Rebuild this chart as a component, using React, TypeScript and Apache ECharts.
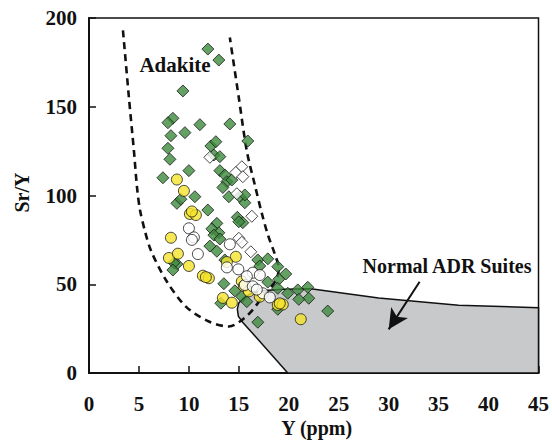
import React, { useEffect, useRef } from "react";
import * as echarts from "echarts";

const xTicks = { min: 0, max: 45, interval: 5 };
const yTicks = { min: 0, max: 200, interval: 50 };

const greenDiamonds: number[][] = [
  [11.9, 182.5], [13.0, 176.3], [9.4, 158.9], [8.4, 143.5], [7.9, 141.0], [9.6, 135.4],
  [8.2, 133.7], [11.1, 139.9], [14.1, 140.3], [15.9, 130.7], [7.9, 126.6], [8.1, 120.4],
  [10.0, 114.0], [7.4, 110.0], [12.2, 127.9], [12.7, 130.3], [12.5, 122.8], [13.1, 121.9],
  [13.1, 114.0], [13.6, 111.5], [13.8, 107.8], [14.3, 108.7], [13.4, 104.5], [10.6, 99.3],
  [8.8, 95.6], [9.2, 97.9], [11.9, 91.8], [14.0, 99.3], [15.1, 99.3], [15.6, 95.9],
  [15.6, 100.3], [14.85, 87.7], [15.4, 84.7], [15.0, 85.2], [12.8, 84.3], [12.3, 81.2],
  [13.0, 79.0], [12.5, 77.7], [13.1, 75.5], [12.1, 71.5], [12.8, 68.6], [8.8, 61.4],
  [8.5, 62.1], [8.4, 58.0], [13.6, 63.7], [16.9, 63.7], [17.9, 64.3], [17.1, 60.3],
  [18.9, 59.9], [19.7, 55.8], [19.0, 52.8], [17.9, 51.2], [18.9, 47.7], [19.9, 44.9],
  [20.9, 46.8], [21.9, 48.3], [22.0, 42.1], [21.0, 41.5], [23.9, 34.9], [18.9, 35.9],
  [13.5, 50.3], [14.6, 46.3], [15.3, 43.0], [13.2, 39.3], [15.8, 40.2], [16.9, 28.6],
];

const openDiamonds: number[][] = [
  [12.1, 121.5], [15.3, 116.2], [14.7, 113.0], [15.4, 110.6], [14.8, 101.0],
  [16.3, 88.3], [15.0, 75.9], [15.3, 73.6], [16.2, 68.3],
];

const yellowCircles: number[][] = [
  [8.8, 109.0], [9.5, 102.6], [10.1, 89.6], [10.7, 89.0], [10.3, 91.0], [8.2, 76.2],
  [8.0, 64.8], [8.9, 67.2], [10.0, 60.3], [11.4, 54.8], [12.0, 53.4], [11.7, 54.0],
  [13.4, 42.3], [14.3, 39.6], [14.7, 65.5], [13.8, 62.5], [15.3, 51.6], [15.5, 49.0],
  [17.1, 43.0], [16.0, 46.0], [18.9, 38.3], [19.4, 38.6], [19.1, 39.2], [21.2, 30.3],
];

const openCircles: number[][] = [
  [10.0, 81.5], [10.5, 76.4], [10.3, 75.0], [10.9, 67.0], [14.1, 72.5], [13.8, 59.5],
  [14.95, 58.4], [16.4, 56.5], [15.6, 49.6], [16.4, 48.8], [17.4, 44.9], [18.1, 42.6],
  [17.1, 55.2], [15.8, 54.5], [16.8, 47.0],
];

const adakiteBoundary: number[][] = [
  [3.4, 193], [4.0, 155], [4.5, 125], [4.8, 105], [5.1, 92], [5.6, 80], [6.2, 69],
  [7.7, 52.4], [9.7, 37.4], [12.0, 29], [14.0, 26.2], [15.9, 32.7], [17.4, 43],
  [18.7, 52], [19.0, 59], [18.6, 67], [17.9, 78], [17.3, 90], [16.6, 106], [15.8, 125],
  [15.0, 155], [14.1, 189],
];

const adrField: number[][] = [
  [19.9, 0], [15.4, 28.5], [14.95, 32], [14.85, 36], [15.0, 39.5], [15.5, 42.5],
  [16.4, 45.3], [17.5, 46.5], [19.5, 47.2], [22.2, 47.5], [29, 42.2], [37, 38.2],
  [45, 36.8], [45, 0],
];

const arrowStart = [33.1, 51.4];
const arrowEnd = [30.0, 24.6];

const FONT = "Liberation Serif, Times New Roman, serif";

export default function App() {
  const ref = useRef<HTMLDivElement>(null);
  useEffect(() => {
    document.body.style.margin = "0";
    const chart = echarts.init(ref.current!, null, { renderer: "svg" });
    const axisCommon = {
      axisLine: { show: true, lineStyle: { color: "#111", width: 2 } },
      axisTick: { show: true, inside: true, length: 7, lineStyle: { color: "#111", width: 1.5 } },
      splitLine: { show: false },
    };
    const border = { borderColor: "#1a1a1a", borderWidth: 1 };
    const txt = (size: number) => ({ fontFamily: FONT, fontWeight: "bold", fontSize: size, fill: "#111", align: "center", verticalAlign: "middle" });
    chart.setOption({
      animation: false,
      backgroundColor: "#fff",
      grid: { left: 89, right: 9, top: 18, bottom: 68, show: true, borderColor: "#111", borderWidth: 1.5 },
      xAxis: {
        type: "value",
        ...xTicks,
        ...axisCommon,
        axisLabel: { margin: 20, fontFamily: FONT, fontWeight: "bold", fontSize: 21, color: "#111" },
      },
      yAxis: {
        type: "value",
        ...yTicks,
        ...axisCommon,
        axisLabel: { margin: 12, fontFamily: FONT, fontWeight: "bold", fontSize: 21, color: "#111" },
      },
      graphic: [
        { type: "text", x: 21.5, y: 192.5, rotation: Math.PI / 2, style: { text: "Sr/Y", ...txt(20) } },
        { type: "text", x: 316.7, y: 428, style: { text: "Y (ppm)", ...txt(20) } },
        { type: "text", x: 175, y: 65, z: 100, style: { text: "Adakite", ...txt(21) } },
        { type: "text", x: 447, y: 266, z: 100, style: { text: "Normal ADR Suites", ...txt(20) } },
      ],
      series: [
        {
          type: "custom",
          z: 1,
          silent: true,
          data: [[0, 0]],
          renderItem: (_params: any, api: any) => ({
            type: "polygon",
            shape: { points: adrField.map((p) => api.coord(p)) },
            style: { fill: "#c8c9cb", stroke: "#111", lineWidth: 1.5 },
          }),
        },
        {
          type: "line",
          z: 2,
          silent: true,
          data: adakiteBoundary,
          smooth: 0.3,
          showSymbol: false,
          symbol: "none",
          lineStyle: { color: "#111", width: 2.6, type: [7, 5] },
          markLine: {
            silent: true,
            symbol: ["none", "arrow"],
            symbolSize: [15, 20],
            label: { show: false },
            lineStyle: { color: "#111", width: 2, type: "solid" },
            data: [[{ coord: arrowStart }, { coord: arrowEnd }]],
          },
        },
        { type: "scatter", z: 3, data: greenDiamonds, symbol: "diamond", symbolSize: 12, itemStyle: { color: "#3d8b3d", ...border } },
        { type: "scatter", z: 4, data: yellowCircles, symbol: "circle", symbolSize: 11, itemStyle: { color: "#f4e42a", ...border } },
        { type: "scatter", z: 5, data: openDiamonds, symbol: "diamond", symbolSize: 12, itemStyle: { color: "#ffffff", ...border } },
        { type: "scatter", z: 6, data: openCircles, symbol: "circle", symbolSize: 11, itemStyle: { color: "#ffffff", ...border } },
      ],
    });
    return () => chart.dispose();
  }, []);
  return <div ref={ref} style={{ width: 552, height: 441 }} />;
}
